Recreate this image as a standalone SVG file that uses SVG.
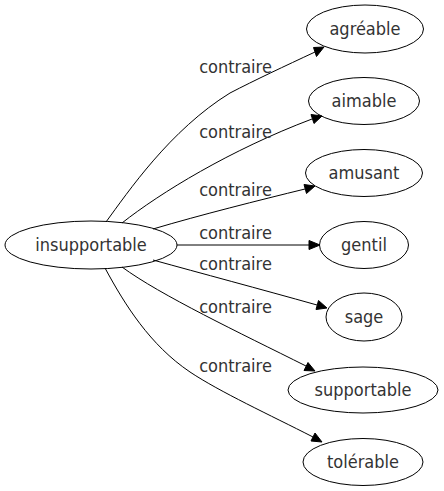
<svg xmlns="http://www.w3.org/2000/svg" width="444" height="491" viewBox="0 0 444 491">
<style>
.n ellipse{fill:none;stroke:#000;stroke-width:1}
text{font-family:"DejaVu Sans Condensed","DejaVu Sans",sans-serif;font-stretch:condensed;font-size:18px;fill:#333;text-anchor:middle}
.e path{fill:none;stroke:#000;stroke-width:1}
.e polygon{fill:#000;stroke:#000;stroke-width:1}
</style>
<rect width="444" height="491" fill="#fff"/>
<g id="edges" class="e">
<path d="M106,222 C128,192 170,130 230,93 C255,80 285,66 315,52"/>
<polygon points="324,47 313.5,47.5 316.5,56.5"/>
<path d="M122,223 C160,193 230,150 312,119"/>
<polygon points="322,116 311,114.5 314,123.5"/>
<path d="M153,229 C200,215 260,200 305,189"/>
<polygon points="315,186 304,184.5 306.5,193.5"/>
<path d="M177,245 L309,245"/>
<polygon points="320,245 309,240.5 309,249.5"/>
<path d="M153,260 C200,273 260,289 317,305"/>
<polygon points="327,308 318.5,300.5 316,309.5"/>
<path d="M122,267 C160,295 240,333 306,366"/>
<polygon points="315,371 308,362.5 304,370.5"/>
<path d="M105,268 C125,305 150,345 190,372 C220,392 270,415 313,437"/>
<polygon points="322,442 315,433 311,441"/>
<text x="235.5" y="73">contraire</text>
<text x="235.5" y="138">contraire</text>
<text x="235.5" y="196">contraire</text>
<text x="235.5" y="239">contraire</text>
<text x="235.5" y="270">contraire</text>
<text x="235.5" y="313">contraire</text>
<text x="235.5" y="372">contraire</text>
</g>
<g id="insupportable" class="n"><ellipse cx="91" cy="245" rx="86" ry="24"/><text x="91" y="250.5">insupportable</text></g>
<g id="agreable" class="n"><ellipse cx="365" cy="29" rx="58.5" ry="24"/><text x="365" y="34.5">agréable</text></g>
<g id="aimable" class="n"><ellipse cx="364" cy="101" rx="55.5" ry="23.5"/><text x="364" y="106.5">aimable</text></g>
<g id="amusant" class="n"><ellipse cx="364" cy="173" rx="58.5" ry="23.5"/><text x="364" y="178.5">amusant</text></g>
<g id="gentil" class="n"><ellipse cx="364" cy="245" rx="44.5" ry="23.5"/><text x="364" y="250.5">gentil</text></g>
<g id="sage" class="n"><ellipse cx="364" cy="317" rx="38" ry="24"/><text x="364" y="322.5">sage</text></g>
<g id="supportable" class="n"><ellipse cx="363" cy="390" rx="75" ry="23"/><text x="363" y="395.5">supportable</text></g>
<g id="tolerable" class="n"><ellipse cx="363" cy="462" rx="60" ry="23.5"/><text x="363" y="467.5">tolérable</text></g>
</svg>
